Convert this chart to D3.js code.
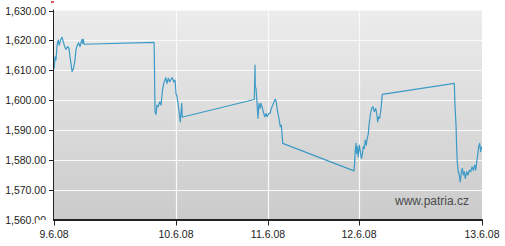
<!DOCTYPE html>
<html lang="en">
  <head>
    <meta charset="UTF-8" />
    <title>Patria chart</title>
    <script src="https://cdn.jsdelivr.net/npm/d3@7"></script>
    <style>
      body { margin: 0; background: #fff; }
      svg { display: block; font-family: "Liberation Sans", Arial, sans-serif; }
    </style>
  </head>
  <body>
    <svg width="505" height="246"></svg>
    <script>
      const width = 505;
      const height = 246;

      // day ticks (9.6.08 ... 13.6.08) and their labels
      const dayTicks = [9, 10, 11, 12, 13];
      const dayLabels = ["9.6.08", "10.6.08", "11.6.08", "12.6.08", "13.6.08"];
      const valueTicks = [1560, 1570, 1580, 1590, 1600, 1610, 1620, 1630];

      // time as day + fraction of the axis segment, price
      const times = [
        9.002, 9.008, 9.016, 9.027, 9.035, 9.043, 9.055, 9.066, 9.076, 9.088,
        9.098, 9.112, 9.123, 9.131, 9.139, 9.148, 9.158, 9.170, 9.180, 9.191,
        9.202, 9.213, 9.221, 9.230, 9.235, 9.240, 9.246,
        9.816, 9.820, 9.822, 9.828, 9.836, 9.844, 9.855, 9.866, 9.877, 9.888,
        9.896, 9.904, 9.916, 9.926, 9.937, 9.948, 9.959, 9.970, 9.981, 9.992,
        10.000, 10.011, 10.022, 10.033, 10.040, 10.047, 10.054, 10.062, 10.068, 10.084,
        10.851, 10.859, 10.862, 10.870, 10.877, 10.884, 10.891, 10.902, 10.913, 10.924,
        10.935, 10.949, 10.964, 10.978, 10.992,
        11.008, 11.022, 11.036, 11.052, 11.066, 11.080, 11.091, 11.102, 11.113, 11.124,
        11.135, 11.146, 11.154, 11.162,
        11.945, 11.952, 11.959, 11.967, 11.974, 11.981, 11.992,
        12.002, 12.011, 12.019, 12.027, 12.035, 12.043, 12.051, 12.059, 12.067, 12.076,
        12.081, 12.092, 12.103, 12.114, 12.124, 12.136, 12.144, 12.152, 12.160, 12.168,
        12.176, 12.184, 12.189,
        12.775, 12.780, 12.789, 12.794, 12.799, 12.807, 12.815, 12.823, 12.832, 12.840,
        12.848, 12.856, 12.864, 12.876, 12.886, 12.897, 12.908, 12.919, 12.929, 12.941,
        12.949, 12.957, 12.965, 12.973, 12.981, 12.989, 12.997
      ];
      const prices = [
        1610.6, 1614.5, 1613.4, 1619.0, 1620.1, 1618.4, 1620.3, 1621.0, 1619.5, 1617.9,
        1617.0, 1617.9, 1617.3, 1614.5, 1612.3, 1609.6, 1610.3, 1612.8, 1616.8, 1618.4,
        1619.2, 1617.9, 1619.2, 1620.3, 1619.0, 1620.3, 1618.7,
        1619.3, 1619.3, 1615.9, 1596.1, 1595.2, 1598.3, 1597.8, 1599.4, 1598.3, 1602.8,
        1605.0, 1606.1, 1607.5, 1605.6, 1607.3, 1606.1, 1607.0, 1607.5, 1606.1, 1606.7,
        1602.2, 1601.1, 1598.9, 1596.1, 1594.4, 1592.7, 1595.5, 1598.9, 1594.4, 1594.4,
        1600.2, 1611.7, 1604.5, 1603.9, 1600.6, 1597.2, 1593.9, 1598.9, 1597.2, 1598.9,
        1597.8, 1596.1, 1594.4, 1595.5, 1594.4,
        1595.5, 1595.5, 1597.2, 1598.3, 1599.4, 1600.3, 1599.4, 1596.6, 1595.0, 1593.3,
        1591.1, 1591.6, 1588.8, 1585.5,
        1576.3, 1578.8, 1583.2, 1585.5, 1582.1, 1584.4, 1581.0,
        1584.9, 1582.7, 1580.5, 1581.6, 1584.4, 1583.8, 1586.6, 1584.9, 1587.2, 1588.8,
        1591.6, 1595.0, 1597.2, 1597.8, 1596.1, 1597.2, 1595.5, 1592.7, 1594.4, 1593.9,
        1596.1, 1599.4, 1601.9,
        1605.6, 1598.3, 1591.6, 1583.8, 1579.3, 1576.0, 1574.9, 1572.6, 1576.0, 1577.1,
        1574.9, 1576.0, 1573.8, 1576.0, 1574.9, 1576.5, 1576.0, 1577.6, 1576.5, 1578.2,
        1576.5, 1579.3, 1581.6, 1584.4, 1585.5, 1582.7, 1584.4
      ];

      const data = times.map((t, i) => ({ t: t, v: prices[i] }));

      const plotLeft = 54, plotRight = 482, plotTop = 10.5, plotBottom = 219.5;

      // the axis is not linear in time: each day has its own width
      const x = d3.scaleLinear().domain(dayTicks).range([54, 176, 268, 359, 482]);
      const y = d3.scaleLinear().domain([1560, 1630]).range([plotBottom, plotTop]);

      const svg = d3.select("svg");

      const defs = svg.append("defs");
      const grad = defs.append("linearGradient")
        .attr("id", "bg").attr("x1", 0).attr("y1", 0).attr("x2", 0).attr("y2", 1);
      grad.append("stop").attr("offset", "0%").attr("stop-color", "#ececec");
      grad.append("stop").attr("offset", "100%").attr("stop-color", "#cbcbcb");

      svg.append("rect")
        .attr("x", plotLeft).attr("y", plotTop)
        .attr("width", plotRight - plotLeft).attr("height", plotBottom - plotTop)
        .attr("fill", "url(#bg)");

      // grid
      svg.append("g").selectAll("line")
        .data(valueTicks.slice(1, -1))
        .join("line")
        .attr("x1", plotLeft).attr("x2", plotRight)
        .attr("y1", d => Math.round(y(d)) + 0.5).attr("y2", d => Math.round(y(d)) + 0.5)
        .attr("stroke", "#fafafa").attr("stroke-width", 1.2);

      svg.append("g").selectAll("line")
        .data(dayTicks.slice(1, -1))
        .join("line")
        .attr("x1", d => Math.round(x(d)) + 0.5).attr("x2", d => Math.round(x(d)) + 0.5)
        .attr("y1", plotTop).attr("y2", plotBottom)
        .attr("stroke", "#fafafa").attr("stroke-width", 1.2);

      // price line
      const line = d3.line()
        .x(d => x(d.t))
        .y(d => y(d.v));

      svg.append("path")
        .attr("d", line(data))
        .attr("fill", "none")
        .attr("stroke", "#3c9ac6")
        .attr("stroke-width", 1.2)
        .attr("stroke-linejoin", "round");

      // watermark
      svg.append("text")
        .attr("x", 432).attr("y", 205)
        .attr("text-anchor", "middle")
        .attr("font-size", 12)
        .attr("fill", "#4a4a4a")
        .text("www.patria.cz");

      // y axis
      const yAxis = svg.append("g");
      yAxis.append("line")
        .attr("x1", plotLeft - 0.5).attr("x2", plotLeft - 0.5)
        .attr("y1", plotTop - 1).attr("y2", plotBottom)
        .attr("stroke", "#222");
      yAxis.selectAll(".tick")
        .data(valueTicks)
        .join("line")
        .attr("x1", plotLeft - 5).attr("x2", plotLeft)
        .attr("y1", d => Math.round(y(d)) + 0.5).attr("y2", d => Math.round(y(d)) + 0.5)
        .attr("stroke", "#222");
      yAxis.selectAll("text")
        .data(valueTicks)
        .join("text")
        .attr("x", 46).attr("y", d => y(d) + 4)
        .attr("text-anchor", "end")
        .attr("font-size", 10.5)
        .attr("fill", "#222")
        .text(d => d3.format(",.2f")(d));

      // small red marker above axis
      svg.append("line")
        .attr("x1", 51).attr("x2", 54).attr("y1", 2).attr("y2", 2)
        .attr("stroke", "#d22").attr("stroke-width", 1.5);

      // cover under the plot (clips bottom label like the original)
      svg.append("rect")
        .attr("x", 36).attr("y", 220).attr("width", width - 36).attr("height", height - 220)
        .attr("fill", "#fff");

      // x axis
      const xAxis = svg.append("g");
      xAxis.append("line")
        .attr("x1", plotLeft - 1).attr("x2", plotRight + 0.5)
        .attr("y1", plotBottom + 0.5).attr("y2", plotBottom + 0.5)
        .attr("stroke", "#222").attr("stroke-width", 2);
      xAxis.selectAll(".tick")
        .data(dayTicks)
        .join("line")
        .attr("x1", d => Math.round(x(d)) + 0.5).attr("x2", d => Math.round(x(d)) + 0.5)
        .attr("y1", plotBottom).attr("y2", plotBottom + 6)
        .attr("stroke", "#222");
      xAxis.selectAll("text")
        .data(dayTicks)
        .join("text")
        .attr("x", d => x(d)).attr("y", 238)
        .attr("text-anchor", "middle")
        .attr("font-size", 10.5)
        .attr("fill", "#222")
        .text((d, i) => dayLabels[i]);
    </script>
  </body>
</html>
